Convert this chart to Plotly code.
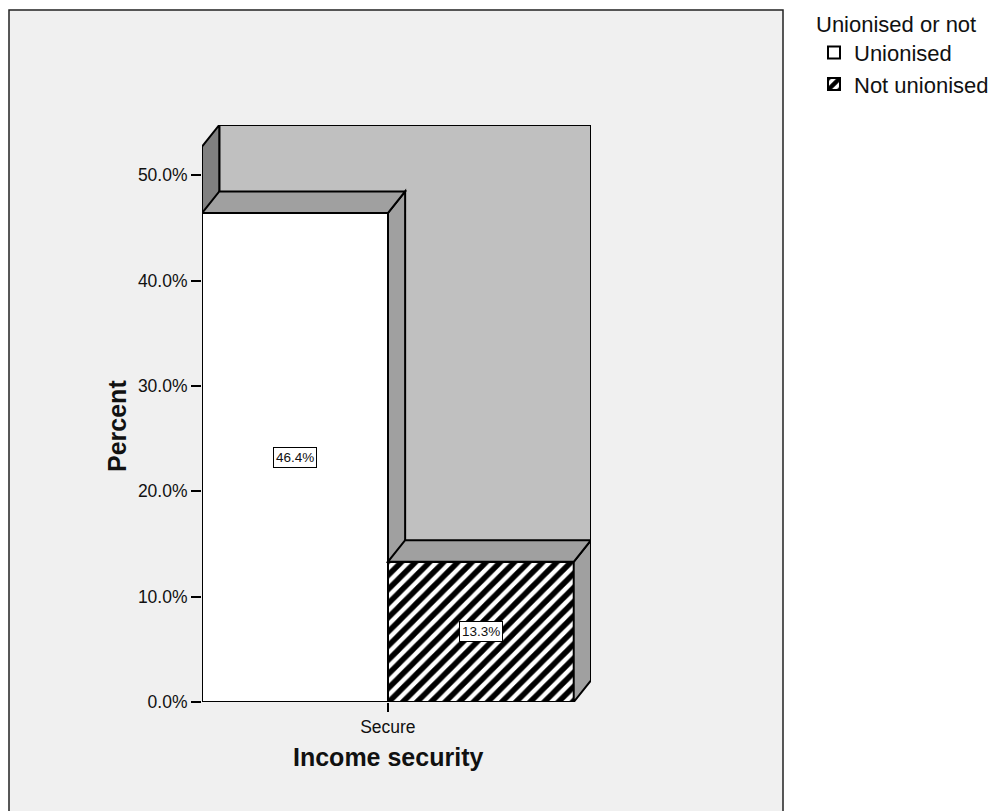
import plotly.graph_objects as go

# ---- data ----
categories = ["Secure"]
series_names = ["Unionised", "Not unionised"]
unionised_pct = [46.4]
not_unionised_pct = [13.3]
y_tick_values = [0, 10, 20, 30, 40, 50]
y_tick_labels = ["0.0%", "10.0%", "20.0%", "30.0%", "40.0%", "50.0%"]
axis_top_pct = 52.7          # height of the back wall, in percent

# ---- geometry / style constants ----
W, H = 1002, 811
PLOT_L, PLOT_R, PLOT_T, PLOT_B = 202, 591, 125, 702
DEPTH_X = 0.0465             # 3D depth along x, in category units
DEPTH_Y = 2.06               # 3D depth along y, in percent units
FONT = "Liberation Sans, Arial, sans-serif"
TEXT = "#111111"
WALL_BACK = "#c0c0c0"
WALL_SIDE = "#808080"
BAR_FACE = "#a0a0a0"
BG = "#f0f0f0"


def paper_x(px):
    return (px - PLOT_L) / (PLOT_R - PLOT_L)


def paper_y(py):
    return (PLOT_B - py) / (PLOT_B - PLOT_T)


def poly(points):
    return "M" + " L".join(f"{x},{y}" for x, y in points) + " Z"


series_values = [unionised_pct, not_unionised_pct]
patterns = [
    dict(shape=""),
    dict(shape="/", fgcolor="black", bgcolor="white", size=10, solidity=0.55, fillmode="replace"),
]

fig = go.Figure()
for name, vals, pat in zip(series_names, series_values, patterns):
    fig.add_bar(
        x=categories,
        y=vals,
        name=name,
        marker=dict(color="white", line=dict(color="black", width=2), pattern=pat),
        hoverinfo="skip",
    )

shapes = []
annotations = []

# outer chart frame
shapes.append(dict(
    type="rect", xref="paper", yref="paper", layer="below",
    x0=paper_x(9), x1=paper_x(783), y0=paper_y(10), y1=paper_y(830),
    fillcolor=BG, line=dict(color="#222222", width=1.5),
))

# back wall and left wall
shapes.append(dict(
    type="path", xref="x", yref="y", layer="below",
    path=poly([(-0.5 + DEPTH_X, DEPTH_Y), (-0.5 + DEPTH_X, axis_top_pct + DEPTH_Y),
               (0.5 + DEPTH_X, axis_top_pct + DEPTH_Y), (0.5 + DEPTH_X, DEPTH_Y)]),
    fillcolor=WALL_BACK, line=dict(color="black", width=2),
))
shapes.append(dict(
    type="path", xref="x", yref="y", layer="below",
    path=poly([(-0.5, 0), (-0.5, axis_top_pct),
               (-0.5 + DEPTH_X, axis_top_pct + DEPTH_Y), (-0.5 + DEPTH_X, DEPTH_Y)]),
    fillcolor=WALL_SIDE, line=dict(color="black", width=2),
))

# 3D side and top faces of each bar, plus value labels
n = len(series_values)
bar_w = 1.0 / n
for ci, _ in enumerate(categories):
    for si, vals in enumerate(series_values):
        v = vals[ci]
        left = ci - 0.5 + si * bar_w
        right = left + bar_w
        side_layer = "above" if si == n - 1 else "below"
        shapes.append(dict(
            type="path", xref="x", yref="y", layer=side_layer,
            path=poly([(right, 0), (right, v), (right + DEPTH_X, v + DEPTH_Y), (right + DEPTH_X, DEPTH_Y)]),
            fillcolor=BAR_FACE, line=dict(color="black", width=2),
        ))
        shapes.append(dict(
            type="path", xref="x", yref="y", layer="above",
            path=poly([(left, v), (right, v), (right + DEPTH_X, v + DEPTH_Y), (left + DEPTH_X, v + DEPTH_Y)]),
            fillcolor=BAR_FACE, line=dict(color="black", width=2),
        ))
        annotations.append(dict(
            xref="x", yref="y", x=(left + right) / 2, y=v / 2,
            text=f"{v:.1f}%", showarrow=False,
            font=dict(family=FONT, size=13.5, color=TEXT),
            bgcolor="white", bordercolor="black", borderwidth=1, borderpad=2,
        ))

# axis titles
annotations.append(dict(
    xref="paper", yref="paper", x=paper_x(117), y=paper_y(426),
    text="<b>Percent</b>", textangle=-90, showarrow=False,
    xanchor="center", yanchor="middle",
    font=dict(family=FONT, size=25, color=TEXT),
))
annotations.append(dict(
    xref="paper", yref="paper", x=paper_x(388), y=paper_y(757),
    text="<b>Income security</b>", showarrow=False,
    xanchor="center", yanchor="middle",
    font=dict(family=FONT, size=25, color=TEXT),
))

fig.update_layout(
    width=W, height=H,
    margin=dict(l=PLOT_L, r=W - PLOT_R, t=PLOT_T, b=H - PLOT_B, autoexpand=False),
    paper_bgcolor="white",
    plot_bgcolor="rgba(0,0,0,0)",
    barmode="group", bargap=0, bargroupgap=0,
    font=dict(family=FONT, color=TEXT),
    shapes=shapes,
    annotations=annotations,
    showlegend=True,
    legend=dict(
        xref="container", yref="container",
        x=814 / W, y=1 - 3 / H, xanchor="left", yanchor="top",
        title=dict(text="Unionised or not", font=dict(family=FONT, size=22, color=TEXT)),
        font=dict(family=FONT, size=22, color=TEXT),
        bgcolor="rgba(0,0,0,0)", itemwidth=30, tracegroupgap=0,
    ),
    xaxis=dict(
        type="category", range=[-0.5, 0.5 + DEPTH_X], fixedrange=True,
        showline=False, showgrid=False, zeroline=False,
        ticks="outside", ticklen=9, tickwidth=1.5, tickcolor="black",
        tickfont=dict(family=FONT, size=17.5, color=TEXT),
    ),
    yaxis=dict(
        range=[0, axis_top_pct + DEPTH_Y], fixedrange=True,
        showline=False, showgrid=False, zeroline=False,
        tickmode="array", tickvals=y_tick_values, ticktext=y_tick_labels,
        ticks="outside", ticklen=10, tickwidth=1.5, tickcolor="black",
        tickfont=dict(family=FONT, size=17.5, color=TEXT),
    ),
)

fig.write_html("out.html")
